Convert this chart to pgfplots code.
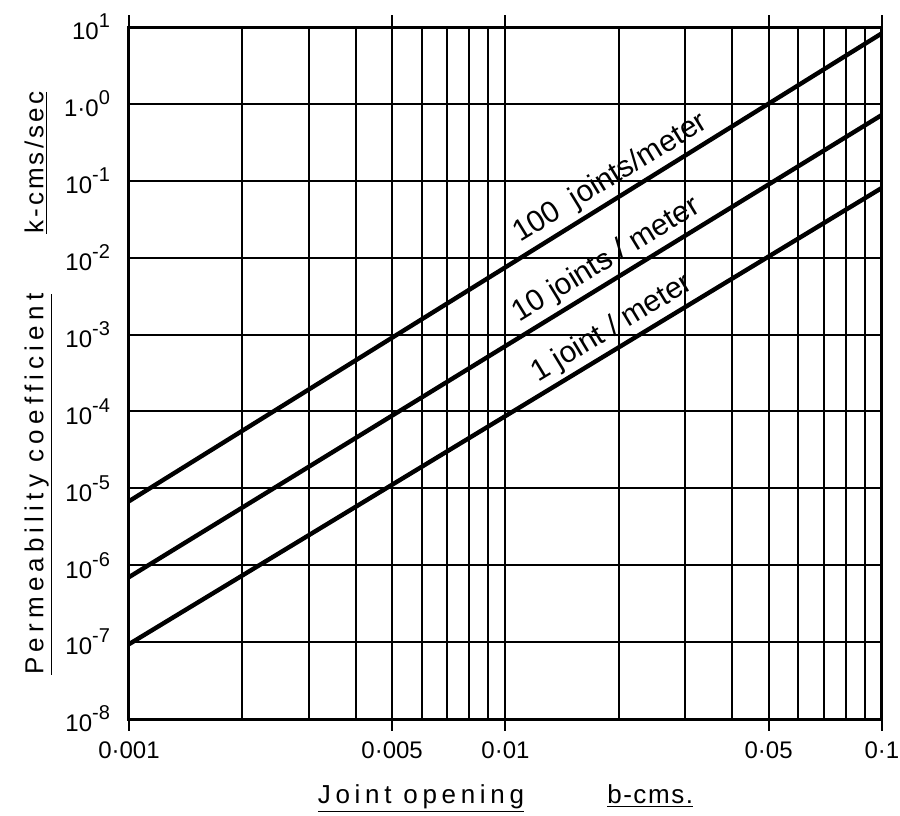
\documentclass[border=0pt]{standalone}
\usepackage{fontspec}
\setmainfont{Liberation Sans}
\usepackage{pgfplots}
\pgfplotsset{compat=1.18}
\newcommand{\pw}[2]{#1\raisebox{0.5em}{\fontsize{10}{10}\selectfont #2}}
\begin{document}
\begin{tikzpicture}
\begin{loglogaxis}[
  name=ax, at={(0,0)}, anchor=south west,
  scale only axis, width=376.5pt, height=346pt,
  xmin=0.001, xmax=0.1, ymin=1e-8, ymax=10,
  xtick={0.001,0.005,0.01,0.05,0.1},
  xticklabels={0·001,0·005,0·01,0·05,0·1},
  minor xtick={0.002,0.003,0.004,0.006,0.007,0.008,0.009,0.02,0.03,0.04,0.06,0.07,0.08,0.09},
  ytick={1e-8,1e-7,1e-6,1e-5,1e-4,1e-3,1e-2,1e-1,1,10},
  yticklabels={\pw{10}{-8},\pw{10}{-7},\pw{10}{-6},\pw{10}{-5},\pw{10}{-4},\pw{10}{-3},\pw{10}{-2},\pw{10}{-1},\pw{1·0}{0},\pw{10}{1}},
  yminorticks=false,
  xmajorgrids=true, xminorgrids=true, ymajorgrids=true,
  major grid style={black, line width=1pt},
  minor grid style={black, line width=1pt},
  axis line style={line width=1.5pt},
  tick align=outside,
  major tick length=6pt, minor tick length=0pt,
  ytick style={draw=none},
  xtick style={black, line width=1pt},
  tick label style={font=\fontsize{12}{12}\selectfont},
  xticklabel style={yshift=-2pt},
  /pgf/number format/assume math mode=true,
  xlabel={\underline{\addfontfeature{LetterSpace=18}Joint opening}\hspace{3.2em}\underline{\addfontfeature{LetterSpace=6}b-cms.}},
  ylabel={\underline{\addfontfeature{LetterSpace=20}Permeability coefficient}\hspace{2.3em}\underline{\addfontfeature{LetterSpace=12}k-cms/sec}},
  xlabel style={at={(axis description cs:0.5,-0.115)}, anchor=center, font=\fontsize{13}{13}\selectfont},
  ylabel style={at={(axis description cs:-0.12,0.485)}, anchor=center, font=\fontsize{13}{13}\selectfont},
]
\addplot[black, line width=2.2pt] coordinates {(0.001,6.8e-6) (0.1,8.3)};
\addplot[black, line width=2.2pt] coordinates {(0.001,7e-7) (0.1,0.72)};
\addplot[black, line width=2.2pt] coordinates {(0.001,9.4e-8) (0.1,0.081)};
\node[rotate=31.5, anchor=south, inner sep=3pt, font=\fontsize{15}{15}\selectfont] at (axis cs:0.0203,0.064) {100\ \ joints/meter};
\node[rotate=31.5, anchor=south, inner sep=3pt, font=\fontsize{15}{15}\selectfont] at (axis cs:0.0198,0.0055) {10 joints / meter};
\node[rotate=31.2, anchor=south, inner sep=3pt, font=\fontsize{15}{15}\selectfont] at (axis cs:0.0205,0.00071) {1 joint / meter};
\end{loglogaxis}
\pgfresetboundingbox
\path (-64.5pt,-48pt) rectangle (385.5pt,359.5pt);
\end{tikzpicture}
\end{document}
